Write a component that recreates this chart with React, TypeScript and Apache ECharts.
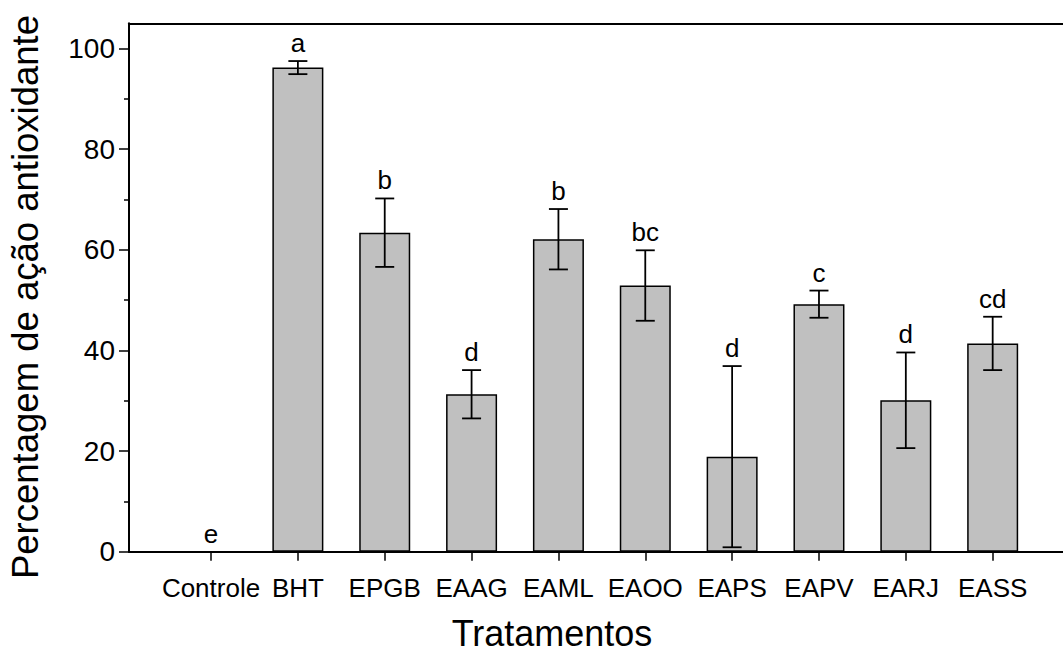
import React, { useEffect, useRef } from "react";
import * as echarts from "echarts";

// Treatments and their antioxidant activity (%), with error and significance letters
const categories = ["Controle", "BHT", "EPGB", "EAAG", "EAML", "EAOO", "EAPS", "EAPV", "EARJ", "EASS"];
const means = [0, 96.2, 63.4, 31.3, 62.1, 52.9, 18.9, 49.2, 30.1, 41.4];
const errors = [0, 1.3, 6.8, 4.8, 6.0, 7.0, 18.0, 2.7, 9.5, 5.3];
const letters = ["e", "a", "b", "d", "b", "bc", "d", "c", "d", "cd"];
const yTicks = [0, 20, 40, 60, 80, 100];

const FONT = '"Liberation Sans", Arial, Helvetica, sans-serif';

export default function App() {
  const ref = useRef<HTMLDivElement>(null);

  useEffect(() => {
    if (!ref.current) return;
    const chart = echarts.init(ref.current, null, { renderer: "svg" });

    const plotTop = 23.3;
    const plotBottom = 101.2;
    const yMaxFrame = 105;
    const pxPerUnit = (653 - plotBottom - plotTop) / yMaxFrame;
    const hundredTop = plotTop + (yMaxFrame - yTicks[yTicks.length - 1]) * pxPerUnit;

    const frameLine = { show: true, lineStyle: { color: "#000", width: 2 } };

    const option: any = {
      animation: false,
      backgroundColor: "#ffffff",
      grid: [
        // frame: top line, left and bottom axis lines
        { left: 129, right: -20, top: plotTop, bottom: plotBottom },
        // y scale with labelled ticks
        { left: 129, right: -20, top: hundredTop, bottom: plotBottom },
        // bars
        { left: 167.6, width: 868.5, top: plotTop, bottom: plotBottom },
      ],
      xAxis: [
        { gridIndex: 0, type: "value", position: "bottom", min: 0, max: 1, axisLine: frameLine, axisTick: { show: false }, axisLabel: { show: false }, splitLine: { show: false } },
        { gridIndex: 0, type: "value", position: "top", min: 0, max: 1, axisLine: frameLine, axisTick: { show: false }, axisLabel: { show: false }, splitLine: { show: false } },
        {
          gridIndex: 2,
          type: "category",
          data: categories,
          axisLine: { show: false },
          axisTick: { show: true, alignWithLabel: true, length: 9, lineStyle: { color: "#000", width: 1.5 } },
          axisLabel: { color: "#000", fontSize: 26, fontFamily: FONT, margin: 23, interval: 0 },
          splitLine: { show: false },
        },
        { gridIndex: 1, type: "value", show: false, min: 0, max: 1 },
      ],
      yAxis: [
        { gridIndex: 0, type: "value", min: 0, max: yMaxFrame, axisLine: frameLine, axisTick: { show: false }, axisLabel: { show: false }, splitLine: { show: false } },
        {
          gridIndex: 1,
          type: "value",
          min: yTicks[0],
          max: yTicks[yTicks.length - 1],
          interval: 20,
          axisLine: { show: false },
          axisTick: { show: true, length: 10, lineStyle: { color: "#000", width: 1.5 } },
          minorTick: { show: true, splitNumber: 2, length: 5, lineStyle: { color: "#000", width: 1.5 } },
          axisLabel: { color: "#000", fontSize: 28, fontFamily: FONT, margin: 14 },
          splitLine: { show: false },
          minorSplitLine: { show: false },
        },
        { gridIndex: 2, type: "value", show: false, min: 0, max: yMaxFrame },
      ],
      graphic: [
        {
          type: "text",
          x: 552,
          y: 633,
          style: { text: "Tratamentos", fill: "#000", font: `36px ${FONT}`, align: "center", verticalAlign: "middle" },
        },
        {
          type: "text",
          x: 25,
          y: 297,
          rotation: Math.PI / 2,
          style: { text: "Percentagem de ação antioxidante", fill: "#000", font: `36.5px ${FONT}`, align: "center", verticalAlign: "middle" },
        },
      ],
      series: [
        {
          type: "bar",
          xAxisIndex: 2,
          yAxisIndex: 2,
          data: means,
          barWidth: 51,
          itemStyle: { color: "#c0c0c0", borderColor: "#000", borderWidth: 1.5 },
        },
        {
          type: "custom",
          xAxisIndex: 2,
          yAxisIndex: 2,
          data: means.map((m, i) => [i, m]),
          z: 5,
          renderItem: (params: any, api: any) => {
            const i = params.dataIndex;
            const hi = means[i] + errors[i];
            const lo = means[i] - errors[i];
            const pTop = api.coord([i, hi]);
            const pBot = api.coord([i, lo]);
            const half = 9.5;
            const stroke = { stroke: "#000", lineWidth: 1.8 };
            const children: any[] = [];
            if (errors[i] > 0) {
              children.push(
                { type: "line", shape: { x1: pTop[0], y1: pTop[1], x2: pBot[0], y2: pBot[1] }, style: stroke },
                { type: "line", shape: { x1: pTop[0] - half, y1: pTop[1], x2: pTop[0] + half, y2: pTop[1] }, style: stroke },
                { type: "line", shape: { x1: pBot[0] - half, y1: pBot[1], x2: pBot[0] + half, y2: pBot[1] }, style: stroke }
              );
            }
            children.push({
              type: "text",
              x: pTop[0],
              y: pTop[1] - 5,
              style: { text: letters[i], fill: "#000", font: `26px ${FONT}`, align: "center", verticalAlign: "bottom" },
            });
            return { type: "group", children };
          },
        },
      ],
    };

    chart.setOption(option);
    return () => chart.dispose();
  }, []);

  return (
    <div
      ref={ref}
      style={{ position: "absolute", left: 0, top: 0, width: 1063, height: 653, overflow: "hidden", background: "#fff" }}
    />
  );
}
